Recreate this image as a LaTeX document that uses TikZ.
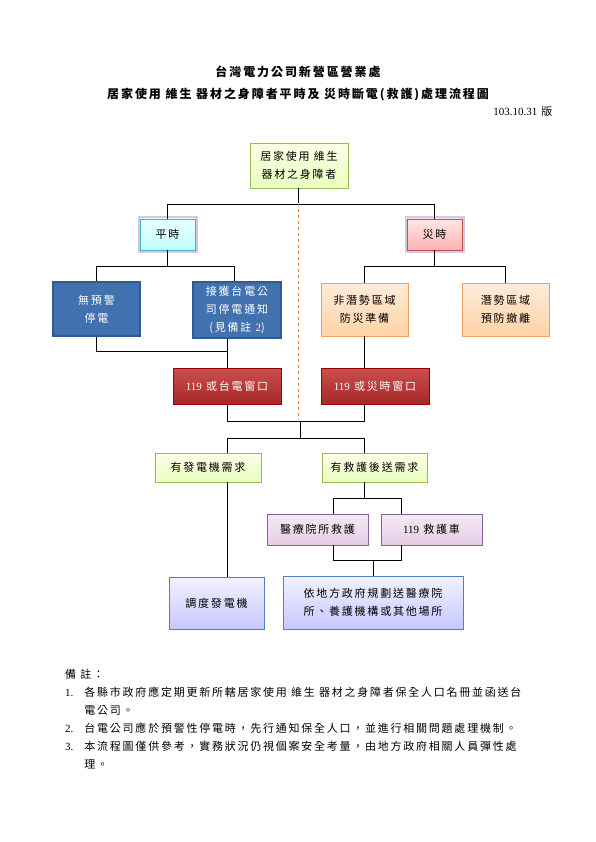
\documentclass[tikz,border=0pt]{standalone}
\usepackage{fontspec}
\setmainfont[LetterSpace=16]{Noto Sans CJK TC}
\newfontfamily\numfont{Liberation Serif}
\newcommand{\nm}[1]{{\numfont #1}}
\usepackage{tikz}
\usetikzlibrary{calc, shadows}

\definecolor{greenline}{HTML}{9BBB59}
\definecolor{cyanline}{HTML}{4BACC6}
\definecolor{pinkline}{HTML}{C0504D}
\definecolor{glowpurple}{HTML}{B9A2D3}
\definecolor{bluefill}{HTML}{4171AE}
\definecolor{blueline}{HTML}{2F5A93}
\definecolor{orangeline}{HTML}{F2A05E}
\definecolor{redfill}{HTML}{C3302F}
\definecolor{purpleline}{HTML}{8064A2}
\definecolor{lightblueline}{HTML}{4F81BD}
\definecolor{dashorange}{HTML}{E08A3C}

\tikzset{
  box/.style={draw, rectangle, align=center, inner sep=2pt,
    font=\fontsize{11}{18}\selectfont,
    drop shadow={opacity=0.25, shadow xshift=1.2pt, shadow yshift=-1.2pt}},
  greenbox/.style={box, draw=greenline, line width=0.8pt, top color=green!8!yellow!10, bottom color=green!35!yellow!25},
  cyanbox/.style={box, draw=cyanline, line width=0.8pt, top color=cyan!8, bottom color=cyan!25,
    preaction={draw=glowpurple, line width=5pt, opacity=0.6}},
  pinkbox/.style={box, draw=pinkline, line width=0.8pt, top color=red!10, bottom color=red!30,
    preaction={draw=glowpurple, line width=5pt, opacity=0.6}},
  bluebox/.style={box, draw=blueline, line width=1.5pt, fill=bluefill, text=white},
  orangebox/.style={box, draw=orangeline, line width=0.8pt, top color=orange!15, bottom color=orange!35},
  redbox/.style={box, draw=red!60!black, line width=0.5pt, top color=redfill!85!white, bottom color=redfill!85!black, text=white},
  purplebox/.style={box, draw=purpleline, line width=0.8pt, top color=violet!8, bottom color=violet!20},
  lightbluebox/.style={box, draw=lightblueline, line width=0.8pt, top color=blue!5, bottom color=blue!22},
  wire/.style={line width=0.8pt, black}
}

\begin{document}
\begin{tikzpicture}[x=1pt, y=-1pt]
\useasboundingbox (0,0) rectangle (595,842);

%% titles
\node[font=\fontsize{12}{14}\selectfont\bfseries] (title) at (298,72) {台灣電力公司新營區營業處};
\node[font=\fontsize{12}{14}\selectfont\bfseries] (subtitle) at (298,95) {居家使用 維生 器材之身障者平時及 災時斷電(救護)處理流程圖};
\node[font=\fontsize{11}{12}\selectfont, anchor=east] (version) at (556,111) {\nm{103.10.31} 版};

%% boxes
\node[greenbox, minimum width=98, minimum height=45] (user) at (299,165.5) {居家使用 維生\\器材之身障者};
\node[cyanbox, minimum width=55, minimum height=31] (calm) at (167.5,234.5) {平時};
\node[pinkbox, minimum width=55, minimum height=31] (disaster) at (434.5,234.5) {災時};

\node[bluebox, minimum width=87, minimum height=54] (nowarn) at (96.5,309) {無預警\\停電};
\node[bluebox, minimum width=88, minimum height=56] (notice) at (237,310) {接獲台電公\\司停電通知\\(見備註 \nm{2})};
\node[orangebox, minimum width=87, minimum height=53] (nonrisk) at (364.5,309.5) {非潛勢區域\\防災準備};
\node[orangebox, minimum width=87, minimum height=53] (risk) at (505.5,309.5) {潛勢區域\\預防撤離};

\node[redbox, minimum width=108, minimum height=36] (win1) at (227,386) {\nm{119} 或台電窗口};
\node[redbox, minimum width=108, minimum height=36] (win2) at (375,386) {\nm{119} 或災時窗口};

\node[greenbox, minimum width=106, minimum height=29] (gen) at (208,467.5) {有發電機需求};
\node[greenbox, minimum width=105, minimum height=29] (rescue) at (374.5,467.5) {有救護後送需求};

\node[purplebox, minimum width=101, minimum height=31] (hosp) at (317.5,529.5) {醫療院所救護};
\node[purplebox, minimum width=101, minimum height=31] (amb) at (431.5,529.5) {\nm{119} 救護車};

\node[lightbluebox, minimum width=95, minimum height=52] (genbox) at (216.5,603) {調度發電機};
\node[lightbluebox, minimum width=180, minimum height=53] (dest) at (373,602.5) {依地方政府規劃送醫療院\\所、養護機構或其他場所};

%% split points
\coordinate (split0) at (298,204);
\coordinate (split1) at (0,266);
\coordinate (split2) at (0,351);
\coordinate (split3) at (0,421);
\coordinate (split4) at (300,438);
\coordinate (hospin) at (333,498);
\coordinate (ambin) at (401,498);
\coordinate (split6) at (0,560);
\coordinate (dashend) at (298,420);

%% user -> calm / disaster
\draw[wire] (user.south -| split0) -- (split0);
\draw[wire] (calm.north) -- (calm.north |- split0) -- (disaster.north |- split0) -- (disaster.north);
\draw[dashorange, dashed, line width=0.7pt] ([yshift=1pt]split0) -- (dashend);

%% calm
\draw[wire] (calm.south) -- (calm.south |- split1);
\draw[wire] (nowarn.north) -- (nowarn.north |- split1) -- ([xshift=-3pt]notice.north |- split1) -- ([xshift=-3pt]notice.north);

%% disaster
\draw[wire] (disaster.south) -- (disaster.south |- split1);
\draw[wire] (nonrisk.north) -- (nonrisk.north |- split1) -- (risk.north |- split1) -- (risk.north);

%% to windows
\draw[wire] (nowarn.south) -- (nowarn.south |- split2) -- (win1.north |- split2);
\draw[wire] (win1.north) -- (win1.north |- notice.south);
\draw[wire] (nonrisk.south) -- (nonrisk.south |- win2.north);

%% windows -> needs
\draw[wire] (win1.south) -- (win1.south |- split3) -- (nonrisk.south |- split3) -- (nonrisk.south |- win2.south);
\draw[wire] (split4 |- split3) -- (split4);
\draw[wire] (win1.south |- gen.north) -- (win1.south |- split4) -- (nonrisk.south |- split4) -- (nonrisk.south |- rescue.north);

%% generator
\draw[wire] (win1.south |- gen.south) -- (win1.south |- genbox.north);

%% rescue
\draw[wire] (nonrisk.south |- rescue.south) -- (nonrisk.south |- hospin);
\draw[wire] (hospin |- hosp.north) -- (hospin) -- (ambin) -- (ambin |- amb.north);
\draw[wire] (hospin |- hosp.south) -- (hospin |- split6) -- (ambin |- split6) -- (ambin |- amb.south);
\draw[wire] (dest.north) -- (dest.north |- split6);

%% notes
\node[anchor=north west, font=\fontsize{11}{18}\selectfont, inner sep=0pt] (notes) at (65,666) {%
  \begin{tabular}{@{}l@{\hspace{11pt}}l@{}}
  \multicolumn{2}{@{}l}{備 註：}\\
  \nm{1.} & 各縣市政府應定期更新所轄居家使用 維生 器材之身障者保全人口名冊並函送台\\
     & 電公司。\\
  \nm{2.} & 台電公司應於預警性停電時，先行通知保全人口，並進行相關問題處理機制。\\
  \nm{3.} & 本流程圖僅供參考，實務狀況仍視個案安全考量，由地方政府相關人員彈性處\\
     & 理。
  \end{tabular}};

\end{tikzpicture}
\end{document}
